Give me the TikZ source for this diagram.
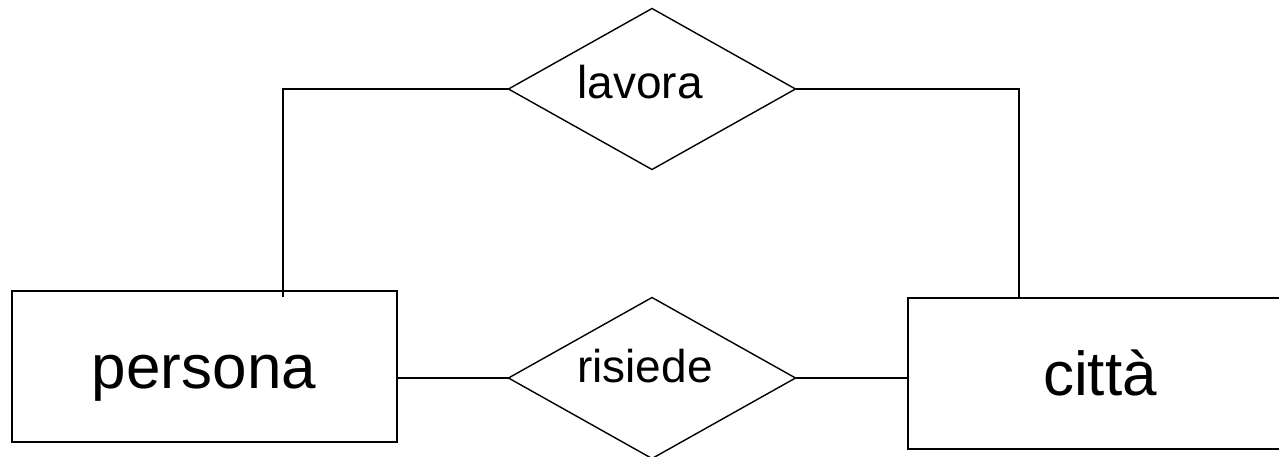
\documentclass[tikz,border=0pt]{standalone}
\usepackage{fontspec}
\setmainfont{Liberation Sans}
\usetikzlibrary{shapes.geometric}
\tikzset{
  entity/.style={draw, rectangle, line width=2pt, inner sep=0pt, outer sep=0pt},
  relation/.style={draw, diamond, line width=1.4pt, inner sep=0pt, outer sep=0pt,
    minimum width=287pt, minimum height=161pt},
  link/.style={line width=2.2pt},
  bigtext/.style={font=\fontsize{62}{70}\selectfont, inner sep=0pt},
  smalltext/.style={font=\fontsize{46}{52}\selectfont, inner sep=0pt},
}
\begin{document}
\begin{tikzpicture}[x=1pt, y=-1pt]
\useasboundingbox (0,0) rectangle (1279,456);
% entities
\node[entity, minimum width=385pt, minimum height=151pt] (persona) at (204.5,366.5) {};
\node[entity, minimum width=392pt, minimum height=151pt] (citta) at (1104,373.5) {};
\node[bigtext, anchor=base] (personaT) at (204,388) {persona};
\node[bigtext, anchor=base] (cittaT) at (1100,395) {città};
% relationships
\node[relation] (lavora) at (652,89) {};
\node[relation] (risiede) at (652,378) {};
\node[smalltext, anchor=base] (lavoraT) at (640,98) {lavora};
\node[smalltext, anchor=base] (risiedeT) at (645,382) {risiede};
% connectors
\coordinate (pl) at (283,297);
\coordinate (cl) at (1019,298);
\draw[link] (persona.east |- risiede.west) -- (risiede.west);
\draw[link] (risiede.east) -- (risiede.east -| citta.west);
\draw[link] (lavora.west) -| (pl);
\draw[link] (lavora.east) -| (cl);
\end{tikzpicture}
\end{document}
